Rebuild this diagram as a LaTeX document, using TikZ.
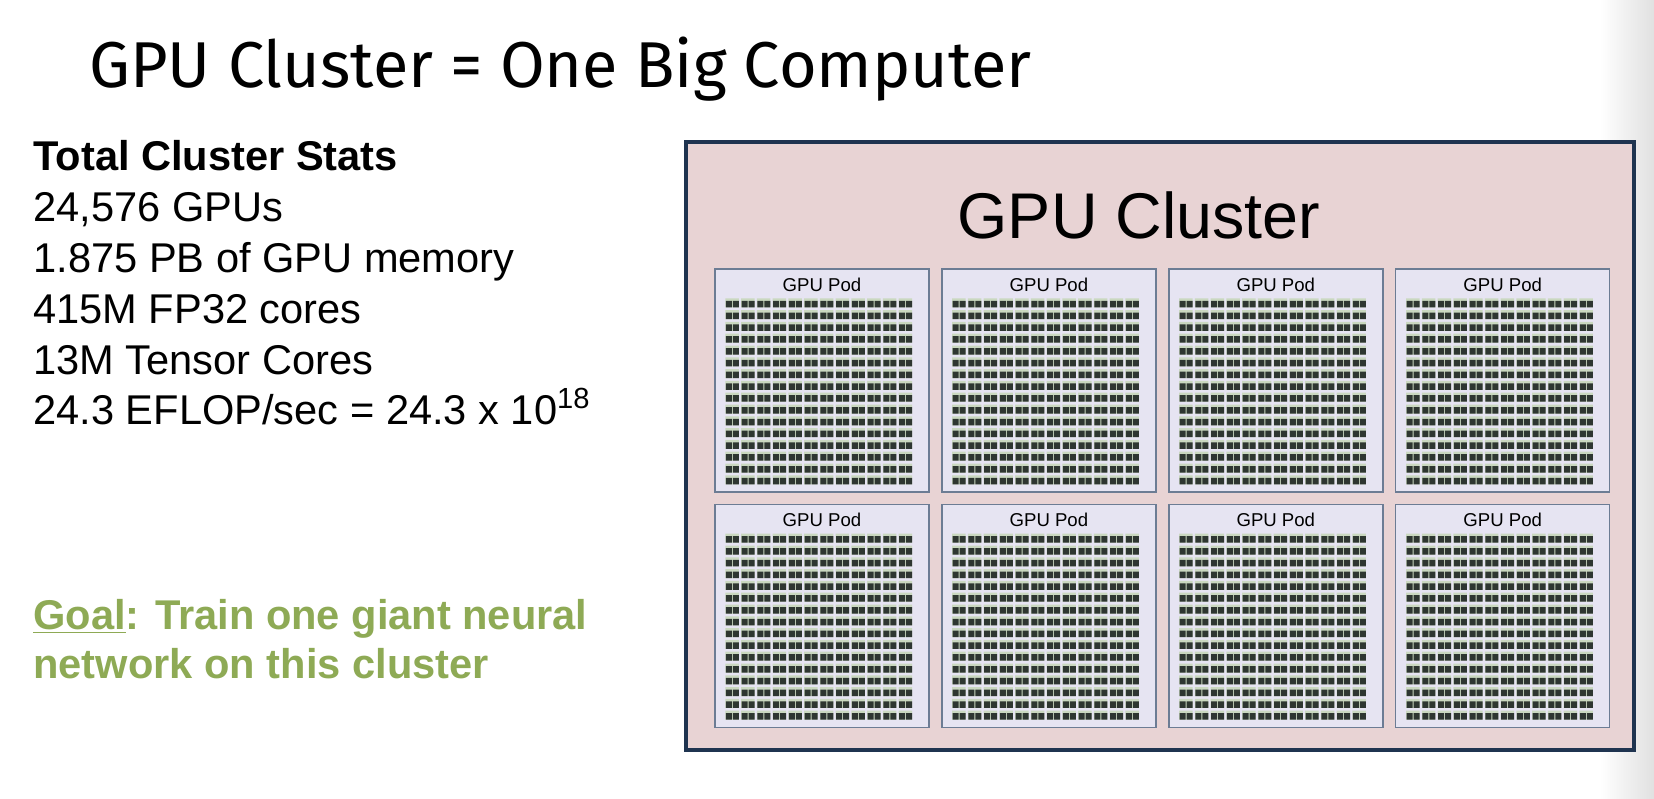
\documentclass[tikz,border=0pt]{standalone}
\usepackage{fontspec}
\setmainfont{Liberation Sans}
\newfontfamily\titlefont{Fira Sans}
\usepackage{xcolor}
\usepackage{tikz}
\usetikzlibrary{positioning}
\definecolor{clusterfill}{HTML}{E8D3D4}
\definecolor{clusterline}{HTML}{1F3450}
\definecolor{podfill}{HTML}{E6E4F2}
\definecolor{podline}{HTML}{6C7C94}
\definecolor{chipdark}{HTML}{2E3631}
\definecolor{chiplight}{HTML}{CAD8C0}
\definecolor{goalgreen}{HTML}{8EAA55}
\tikzstyle{cluster} = [rectangle, draw=clusterline, line width=1.7pt, fill=clusterfill,
minimum width=474pt, minimum height=304pt, inner sep=0pt]
\tikzstyle{pod} = [rectangle, draw=podline, line width=0.7pt, fill=podfill,
minimum width=107pt, minimum height=111.5pt, inner sep=0pt]
\tikzstyle{podlabel} = [anchor=base, inner sep=0pt, font=\fontsize{9.3}{11}\selectfont]
\tikzstyle{stat} = [anchor=base west, inner sep=0pt, font=\fontsize{20.8}{25}\selectfont]
\tikzstyle{goal} = [stat, text=goalgreen, font=\fontsize{20.8}{25}\selectfont\bfseries]

\begin{document}
\begin{tikzpicture}[x=0.5pt, y=-0.5pt, node distance=5.5pt and 5.75pt]
    \useasboundingbox (0,0) rectangle (1654,798);
    \fill[white] (0,0) rectangle (1654,798);
    \shade[left color=white, right color=black!12] (1600,0) rectangle (1654,798);

    \node (title) [anchor=base west, inner sep=0pt, font=\titlefont\fontsize{32.4}{38}\selectfont]
      at (89,87) {GPU Cluster = One Big Computer};

    % stats on the left
    \node (stathead) [stat] at (33,170) {\textbf{Total Cluster Stats}};
    \node (gpus) [stat] at (33,221) {24,576 GPUs};
    \node (mem) [stat] at (33,272) {1.875 PB of GPU memory};
    \node (fp32) [stat] at (33,323) {415M FP32 cores};
    \node (tensor) [stat] at (33,374) {13M Tensor Cores};
    \node (flops) [stat] at (33,424) {24.3 EFLOP/sec = 24.3 x 10\textsuperscript{18}};
    \node (goal1) [goal] at (33,629) {\underline{Goal}: Train one giant neural};
    \node (goal2) [goal] at (33,678) {network on this cluster};

    % the cluster and its pods
    \node (cluster) [cluster] at (1160,446) {};
    \node (clustername) [anchor=base, inner sep=0pt, font=\fontsize{32.3}{38}\selectfont]
      at (1139,238) {GPU Cluster};
    \node (pod1) [pod] at (822,380.5) {};
    \node (pod2) [pod, right=of pod1] {};
    \node (pod3) [pod, right=of pod2] {};
    \node (pod4) [pod, right=of pod3] {};
    \node (pod5) [pod, below=of pod1] {};
    \node (pod6) [pod, right=of pod5] {};
    \node (pod7) [pod, right=of pod6] {};
    \node (pod8) [pod, right=of pod7] {};

    \foreach \p in {pod1,pod2,pod3,pod4,pod5,pod6,pod7,pod8} {
      \node (\p label) [podlabel] at ([shift={(0,23)}]\p.north) {GPU Pod};
      \fill[chiplight] \foreach \c in {0,...,11} { \foreach \r in {0,...,15} {
        ([shift={(11+\c*15.75,30+\r*11.8)}]\p.north west) rectangle ++(13.5,9) } };
      \fill[chipdark] \foreach \c in {0,...,11} { \foreach \r in {0,...,15} {
        ([shift={(11.5+\c*15.75,32.5+\r*11.8)}]\p.north west) rectangle ++(6,6.5)
        ([shift={(18.5+\c*15.75,32.5+\r*11.8)}]\p.north west) rectangle ++(6,6.5) } };
    }
  \end{tikzpicture}
\end{document}
